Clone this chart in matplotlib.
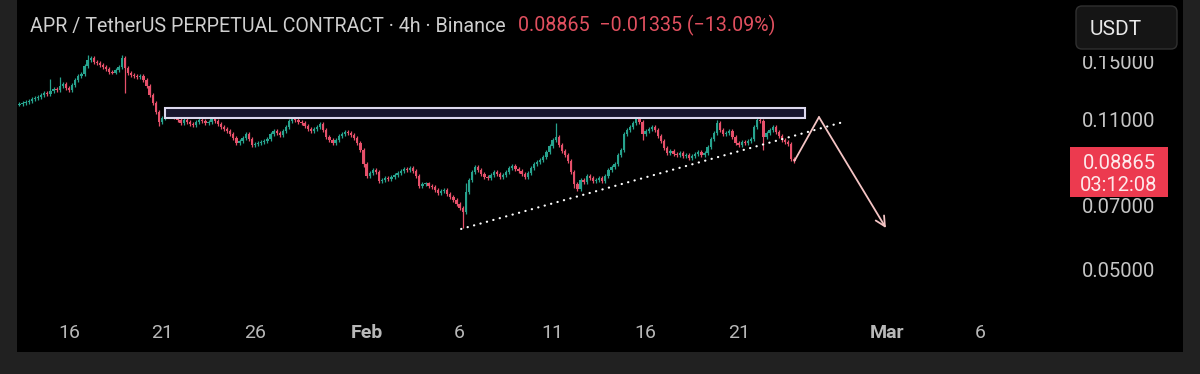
import matplotlib
matplotlib.use("Agg")
import matplotlib.pyplot as plt
import matplotlib.dates as mdates
from matplotlib.patches import Rectangle, FancyBboxPatch
from matplotlib.transforms import IdentityTransform, blended_transform_factory
import pandas as pd
import numpy as np

plt.rcParams['font.family'] = ['Roboto', 'DejaVu Sans']

# ---------------- data ----------------
title_main = "APR / TetherUS PERPETUAL CONTRACT \u00b7 4h \u00b7 Binance"
title_quote = "0.08865  \u22120.01335 (\u221213.09%)"
last_price_label = "0.08865"
countdown_label = "03:12:08"
currency_label = "USDT"

first_candle = "2025-01-13 08:00"
first_open = 0.1192
closes = [
    0.1197, 0.1204, 0.1210, 0.1216, 0.1229, 0.1236, 0.1242, 0.1255, 0.1269, 0.1262,
    0.1282, 0.1296, 0.1289, 0.1316, 0.1330, 0.1302, 0.1289, 0.1323, 0.1359, 0.1387,
    0.1402, 0.1463, 0.1510, 0.1526, 0.1494, 0.1486, 0.1470, 0.1455, 0.1440, 0.1417,
    0.1412, 0.1432, 0.1455, 0.1526, 0.1447, 0.1410, 0.1395, 0.1387, 0.1380, 0.1387,
    0.1359, 0.1316, 0.1255, 0.1204, 0.1147, 0.1088, 0.1112, 0.1147, 0.1160, 0.1135,
    0.1117, 0.1100, 0.1083, 0.1100, 0.1088, 0.1077, 0.1071, 0.1088, 0.1100, 0.1094,
    0.1083, 0.1088, 0.1112, 0.1094, 0.1077, 0.1060, 0.1049, 0.1038, 0.1022, 0.1001,
    0.0974, 0.0985, 0.1001, 0.1022, 0.0995, 0.0964, 0.0969, 0.0974, 0.0980, 0.0985,
    0.0995, 0.1022, 0.1038, 0.1027, 0.1016, 0.1038, 0.1060, 0.1094, 0.1117, 0.1100,
    0.1088, 0.1083, 0.1066, 0.1049, 0.1038, 0.1049, 0.1060, 0.1077, 0.1044, 0.1006,
    0.0990, 0.0974, 0.0990, 0.1011, 0.1022, 0.1033, 0.1027, 0.1016, 0.1001, 0.0974,
    0.0939, 0.0873, 0.0819, 0.0832, 0.0845, 0.0836, 0.0797, 0.0802, 0.0810, 0.0806,
    0.0814, 0.0823, 0.0832, 0.0841, 0.0850, 0.0845, 0.0854, 0.0841, 0.0819, 0.0777,
    0.0785, 0.0788, 0.0777, 0.0773, 0.0760, 0.0748, 0.0756, 0.0760, 0.0745, 0.0733,
    0.0721, 0.0706, 0.0691, 0.0677, 0.0752, 0.0802, 0.0836, 0.0859, 0.0845, 0.0827,
    0.0814, 0.0810, 0.0823, 0.0836, 0.0827, 0.0814, 0.0823, 0.0836, 0.0854, 0.0863,
    0.0850, 0.0841, 0.0827, 0.0814, 0.0832, 0.0854, 0.0873, 0.0882, 0.0891, 0.0905,
    0.0929, 0.0959, 0.0990, 0.1006, 0.0964, 0.0934, 0.0915, 0.0886, 0.0836, 0.0785,
    0.0764, 0.0802, 0.0793, 0.0819, 0.0810, 0.0797, 0.0802, 0.0810, 0.0797, 0.0819,
    0.0845, 0.0859, 0.0873, 0.0915, 0.0939, 0.1022, 0.1044, 0.1060, 0.1083, 0.1106,
    0.1088, 0.1022, 0.1038, 0.1049, 0.1060, 0.1044, 0.1011, 0.0985, 0.0949, 0.0925,
    0.0934, 0.0920, 0.0915, 0.0925, 0.0910, 0.0915, 0.0901, 0.0910, 0.0920, 0.0929,
    0.0915, 0.0925, 0.0954, 0.0995, 0.1027, 0.1083, 0.1044, 0.1022, 0.1027, 0.1038,
    0.1006, 0.0974, 0.0964, 0.0980, 0.0974, 0.0985, 0.0995, 0.1060, 0.1100, 0.1094,
    0.1006, 0.1027, 0.1044, 0.1060, 0.1033, 0.1011, 0.0990, 0.0980, 0.0969, 0.0896,
    0.08865,
]
# notable wick extremes (candle index -> price)
wick_highs = {10: 0.1366, 13: 0.1380, 15: 0.1345, 22: 0.1550, 33: 0.1550,
              173: 0.1083, 199: 0.1129, 225: 0.1100, 238: 0.1117, 144: 0.0790}
wick_lows = {34: 0.1269, 45: 0.1066, 143: 0.0622, 179: 0.0770, 240: 0.0939,
             111: 0.0860, 201: 0.0990}

price_ticks = [0.15, 0.11, 0.07, 0.05]
price_tick_labels = ["0.15000", "0.11000", "0.07000", "0.05000"]
date_ticks = ["2025-01-16", "2025-01-21", "2025-01-26", "2025-02-01", "2025-02-06",
              "2025-02-11", "2025-02-16", "2025-02-21", "2025-03-01", "2025-03-06"]
date_tick_labels = ["16", "21", "26", "Feb", "6", "11", "16", "21", "Mar", "6"]

zone_dates = ["2025-01-21 03:50", "2025-02-24 13:40"]
zone_prices = [0.1112, 0.1172]
trend_dates = ["2025-02-06 02:00", "2025-02-26 14:40"]
trend_prices = [0.0619, 0.1088]
proj_dates = ["2025-02-24 00:00", "2025-02-25 07:40", "2025-02-28 22:05"]
proj_prices = [0.08865, 0.1117, 0.0622]

# ---------------- style ----------------
W, H = 1200, 374
GREEN = "#27a38e"
RED = "#e6506a"
BG = "#212121"

fig = plt.figure(figsize=(W / 100, H / 100), dpi=100, facecolor=BG)
ax = fig.add_axes([17 / W, (H - 352) / H, 1166 / W, 352 / H])
ax.set_facecolor("black")
for s in ax.spines.values():
    s.set_visible(False)
ax.set_yscale("log")
ax.set_xticks([])
ax.set_yticks([])
ax.yaxis.set_minor_locator(matplotlib.ticker.NullLocator())

base = mdates.date2num(pd.Timestamp("2025-01-16"))
ax.set_xlim(base - 2.796, base + 59.89)
ax.set_ylim(0.03234, 0.2072)

# candles
times = pd.date_range(first_candle, periods=len(closes), freq="4h")
tx = mdates.date2num(times)
c = np.array(closes)
o = np.concatenate([[first_open], c[:-1]])
hi_body = np.maximum(o, c)
lo_body = np.minimum(o, c)
highs = hi_body * 1.009
lows = lo_body * 0.991
for k, v in wick_highs.items():
    highs[k] = max(highs[k], v)
for k, v in wick_lows.items():
    lows[k] = min(lows[k], v)
cols = [GREEN if cc >= oo else RED for oo, cc in zip(o, c)]
ax.vlines(tx, lows, highs, colors=cols, linewidth=0.9, zorder=2)
body_top = np.maximum(hi_body, lo_body * 1.004)
ax.bar(tx, body_top - lo_body, bottom=lo_body, width=0.125, color=cols,
       linewidth=0, zorder=3)

# zone rectangle
zx = mdates.date2num(pd.to_datetime(zone_dates))
ax.add_patch(Rectangle((zx[0], zone_prices[0]), zx[1] - zx[0],
                       zone_prices[1] - zone_prices[0],
                       facecolor="#18162e", edgecolor="#dcd8ee", linewidth=1.5,
                       zorder=4))

# dotted trend line
tdx = mdates.date2num(pd.to_datetime(trend_dates))
ax.plot(tdx, trend_prices, color="white", linewidth=1.6,
        linestyle=(0, (0.1, 2.9)), dash_capstyle="round", zorder=5)

# projection path with arrow
pdx = mdates.date2num(pd.to_datetime(proj_dates))
PINK = "#f4c4c4"
ax.plot(pdx[:2], proj_prices[:2], color=PINK, linewidth=1.3, zorder=5,
        solid_capstyle="round")
ax.annotate("", xy=(pdx[2], proj_prices[2]), xytext=(pdx[1], proj_prices[1]),
            arrowprops=dict(arrowstyle="->,head_length=0.7,head_width=0.35",
                            color=PINK, linewidth=1.3, shrinkA=0, shrinkB=0),
            zorder=5)

# header texts
t1 = ax.text(13 / 1166, 1 - 32.3 / 352, title_main, transform=ax.transAxes,
             color="#cfcfcf", fontsize=14.1, va="baseline", ha="left")
ax.annotate(title_quote, xy=(1, 0), xycoords=t1, xytext=(9, 0),
            textcoords="offset points", color="#e0505f", fontsize=14.1,
            va="bottom", ha="left")

# date labels
dtrans = blended_transform_factory(ax.transData, ax.transAxes)
for d, lab in zip(date_ticks, date_tick_labels):
    xd = mdates.date2num(pd.Timestamp(d))
    bold = lab in ("Feb", "Mar")
    ax.text(xd, (352 - 338) / 352, lab, transform=dtrans, ha="center",
            va="baseline", fontsize=14, color="#b8b8b8",
            fontweight="bold" if bold else "normal")

fig.canvas.draw()
ident = IdentityTransform()


def py_of(price):
    return H - ax.transData.transform((ax.get_xlim()[0], price))[1]


# price labels
for p, lab in zip(price_ticks, price_tick_labels):
    py = py_of(p)
    fig.text(1155, H - (py + 7.3), lab, transform=ident, ha="right",
             va="baseline", fontsize=14.5, color="#c6c6c6", zorder=5)

# mask above top axis label and USDT box
fig.add_artist(Rectangle((1068, H - 55.5), 115, 55.5, transform=ident,
                         facecolor="black", edgecolor="none", zorder=6))
fig.add_artist(FancyBboxPatch((1076, H - 49), 101, 43, transform=ident,
                              boxstyle="round,pad=0,rounding_size=6",
                              facecolor="#151515", edgecolor="#303030",
                              linewidth=1.0, zorder=7))
fig.text(1090, H - 35, currency_label, transform=ident, ha="left",
         va="baseline", fontsize=15, color="#e8e8e8", zorder=8)

# last price box
lp = py_of(closes[-1])
fig.add_artist(Rectangle((1070, H - (lp + 36)), 98, 50, transform=ident,
                         facecolor="#ec3a4f", edgecolor="none", zorder=6))
fig.text(1119, H - (lp + 8.5), last_price_label, transform=ident, ha="center",
         va="baseline", fontsize=14.5, color="#fde9eb", zorder=7)
fig.text(1119, H - (lp + 30.5), countdown_label, transform=ident, ha="center",
         va="baseline", fontsize=14.5, color="#fde9eb", zorder=7)

fig.savefig("out.png", dpi=100, facecolor=BG)
